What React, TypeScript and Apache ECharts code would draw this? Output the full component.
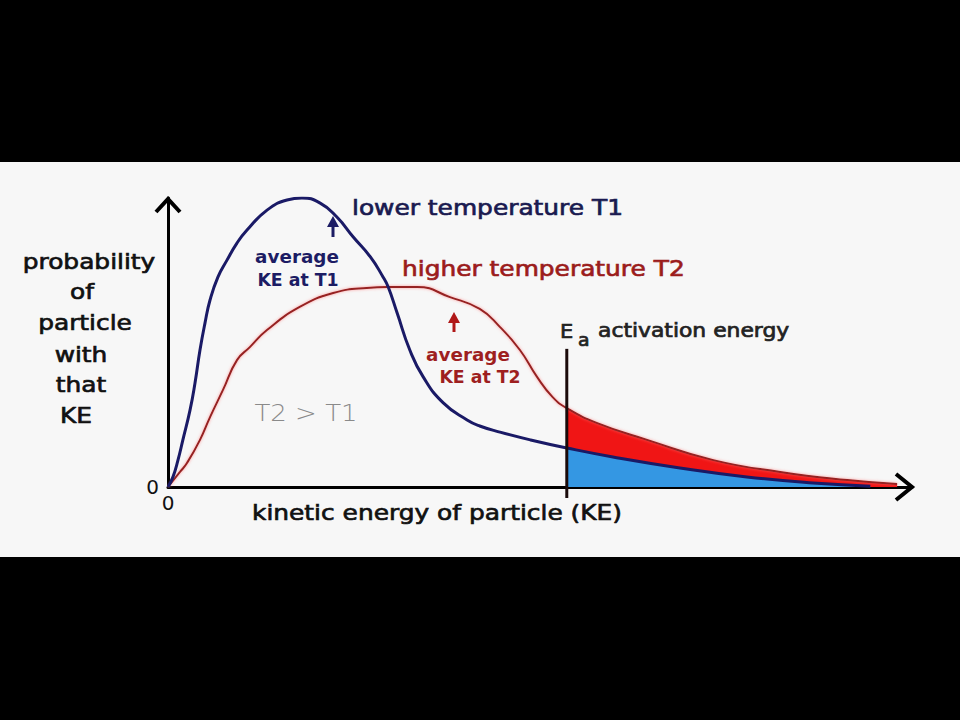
import React, { useEffect, useRef } from "react";
import * as echarts from "echarts";

// Kinetic energy (arbitrary units, 0..100) and probability (arbitrary units, 0..100)
const KE_MAX = 100;
const PROB_MAX = 100;
const EA = 53.6; // activation energy
const EA_LINE_TOP = 47.8;
const EA_LINE_BOTTOM = -3.8;

const xTickLabels = ["0"];
const yTickLabels = ["0"];

// lower temperature T1 (blue)
const lowerT1: [number, number][] = [
  [0, 0], [0.67, 3.5], [1.34, 9.3], [2.0, 16.3], [2.96, 26.6], [3.63, 36.0],
  [4.3, 47.4], [4.97, 56.7], [5.65, 64.7], [6.72, 72.7], [7.93, 78.5], [9.27, 84.4],
  [10.62, 88.9], [13.31, 95.8], [16.0, 99.3], [18.0, 100], [20.4, 98.3], [22.7, 93.4],
  [24.9, 86.5], [27.2, 79.6], [28.9, 72.7], [29.6, 69.2], [30.8, 60.2], [32.5, 47.4],
  [34.3, 38.1], [37.0, 29.1], [40.2, 23.2], [41.9, 21.1], [44.6, 19.0], [48.7, 16.3],
  [53.6, 13.5], [59.8, 10.4], [68.8, 6.6], [77.8, 3.5], [86.7, 1.4], [94.4, 0.3],
];

// higher temperature T2 (red)
const higherT2: [number, number][] = [
  [0, 0], [1.61, 5.2], [2.55, 8.3], [4.3, 16.3], [5.65, 24.2], [7.39, 33.6],
  [9.27, 43.9], [11.0, 48.4], [13.3, 54.3], [17.7, 62.3], [22.2, 67.1], [26.7, 68.9],
  [29.6, 69.2], [33.5, 69.2], [37.9, 65.7], [41.9, 61.6], [44.6, 55.4], [47.3, 47.4],
  [49.6, 38.1], [51.7, 31.1], [53.6, 27.3], [57.7, 22.1], [64.4, 16.3], [73.3, 9.3],
  [82.3, 5.2], [91.3, 2.4], [98.0, 1.0],
];

const FONT = "'DejaVu Sans', Verdana, sans-serif";

function txt(
  text: string,
  x: number,
  y: number,
  size: number,
  color: string,
  opts: { align?: string; weight?: string; scaleX?: number; stroke?: number } = {}
) {
  const align = opts.align || "center";
  const sw = opts.stroke ?? 0.7;
  return {
    type: "text",
    x,
    y,
    scaleX: opts.scaleX ?? 1.13,
    z: 100,
    style: {
      text,
      fill: color,
      stroke: sw > 0 ? color : "none",
      lineWidth: sw,
      fontSize: size,
      fontFamily: FONT,
      fontWeight: opts.weight || "normal",
      textAlign: align,
      align,
      textVerticalAlign: "middle",
      verticalAlign: "middle",
    },
  };
}

function upArrow(x: number, top: number, bottom: number, color: string) {
  return [
    {
      type: "line",
      z: 100,
      shape: { x1: x, y1: top + 8, x2: x, y2: bottom },
      style: { stroke: color, lineWidth: 3 },
    },
    {
      type: "polygon",
      z: 100,
      shape: { points: [[x - 6, top + 11], [x, top], [x + 6, top + 11]] },
      style: { fill: color },
    },
  ];
}

export default function App() {
  const ref = useRef<HTMLDivElement>(null);

  useEffect(() => {
    if (!ref.current) return;
    const chart = echarts.init(ref.current, undefined, { renderer: "svg" });

    const redTail = higherT2.filter((p) => p[0] >= EA);
    const blueTail = lowerT1.filter((p) => p[0] >= EA);

    const navy = "#1c1c64";
    const darkRed = "#9e1f1f";
    const SMOOTH = 0.5;

    const option = {
      animation: false,
      backgroundColor: "#f7f7f7",
      grid: { left: 168, top: 198, width: 744, height: 289, containLabel: false },
      xAxis: {
        type: "value",
        min: 0,
        max: KE_MAX,
        interval: KE_MAX,
        axisLine: { show: true, onZero: true, lineStyle: { color: "#000", width: 3 } },
        axisTick: { show: false },
        splitLine: { show: false },
        axisLabel: {
          formatter: (v: number) => (v === 0 ? xTickLabels[0] : ""),
          color: "#111",
          fontSize: 20,
          fontFamily: FONT,
          margin: 6,
        },
      },
      yAxis: {
        type: "value",
        min: 0,
        max: PROB_MAX,
        interval: PROB_MAX,
        axisLine: { show: true, lineStyle: { color: "#000", width: 3 } },
        axisTick: { show: false },
        splitLine: { show: false },
        axisLabel: {
          formatter: (v: number) => (v === 0 ? yTickLabels[0] : ""),
          color: "#111",
          fontSize: 20,
          fontFamily: FONT,
          margin: 9,
        },
      },
      graphic: [
        { type: "rect", shape: { x: 0, y: 0, width: 960, height: 162 }, style: { fill: "#000" } },
        { type: "rect", shape: { x: 0, y: 557, width: 960, height: 163 }, style: { fill: "#000" } },
        // axis arrowheads
        {
          type: "polyline",
          z: 100,
          shape: { points: [[896, 474], [912, 487], [896, 500]] },
          style: { stroke: "#000", lineWidth: 4, fill: "none" },
        },
        {
          type: "polyline",
          z: 100,
          shape: { points: [[156, 212], [168, 199], [180, 212]] },
          style: { stroke: "#000", lineWidth: 4, fill: "none" },
        },
        // y axis title
        txt("probability", 89, 262, 22, "#111"),
        txt("of", 82, 292, 22, "#111"),
        txt("particle", 85, 323, 22, "#111"),
        txt("with", 81, 355, 22, "#111"),
        txt("that", 81, 385, 22, "#111"),
        txt("KE", 76, 416, 22, "#111"),
        // x axis title
        txt("kinetic energy of particle (KE)", 437, 513, 22, "#111"),
        // annotations
        txt("lower temperature T1", 352, 208, 22, "#1a1a50", { align: "left" }),
        txt("higher temperature T2", 402, 269, 22, "#9b1c1c", { align: "left" }),
        txt("average", 297, 257, 17, navy, { weight: "bold", scaleX: 1.08, stroke: 0 }),
        txt("KE at T1", 298, 280, 17, navy, { weight: "bold", scaleX: 1.02, stroke: 0 }),
        txt("average", 468, 355, 17, darkRed, { weight: "bold", scaleX: 1.08, stroke: 0 }),
        txt("KE at T2", 480, 377, 17, darkRed, { weight: "bold", scaleX: 1.02, stroke: 0 }),
        ...upArrow(333, 216, 237, navy),
        ...upArrow(454, 312, 332, "#b01818"),
        txt("T2 > T1", 306, 413, 23, "#8a8a8a", { weight: "200", stroke: 0 }),
        txt("E", 560, 331, 20, "#222", { align: "left", scaleX: 1.05 }),
        txt("a", 578, 340, 18, "#222", { align: "left", scaleX: 1.05 }),
        txt("activation energy", 598, 331, 19, "#222", { align: "left", scaleX: 1.15 }),
      ],
      series: [
        {
          name: "T2 tail above Ea",
          type: "line",
          data: redTail,
          smooth: SMOOTH,
          symbol: "none",
          lineStyle: { width: 0 },
          areaStyle: { color: "#f01515", opacity: 1 },
          z: 2,
        },
        {
          name: "T1 tail above Ea",
          type: "line",
          data: blueTail,
          smooth: SMOOTH,
          symbol: "none",
          lineStyle: { width: 0 },
          areaStyle: { color: "#3497e3", opacity: 1 },
          z: 3,
        },
        {
          name: "higher temperature T2",
          type: "line",
          data: higherT2,
          smooth: SMOOTH,
          symbol: "none",
          lineStyle: {
            color: "#962020",
            width: 2,
            shadowColor: "rgba(255,110,110,0.7)",
            shadowBlur: 3,
          },
          z: 4,
        },
        {
          name: "lower temperature T1",
          type: "line",
          data: lowerT1,
          smooth: SMOOTH,
          symbol: "none",
          lineStyle: { color: "#1a1a66", width: 3 },
          z: 5,
        },
        {
          name: "Ea",
          type: "line",
          data: [[EA, EA_LINE_TOP], [EA, EA_LINE_BOTTOM]],
          symbol: "none",
          clip: false,
          lineStyle: { color: "#1a0a0a", width: 3 },
          z: 6,
        },
      ],
    };

    chart.setOption(option as any);
    return () => chart.dispose();
  }, []);

  return (
    <div
      ref={ref}
      style={{ position: "fixed", left: 0, top: 0, width: 960, height: 720 }}
    />
  );
}
